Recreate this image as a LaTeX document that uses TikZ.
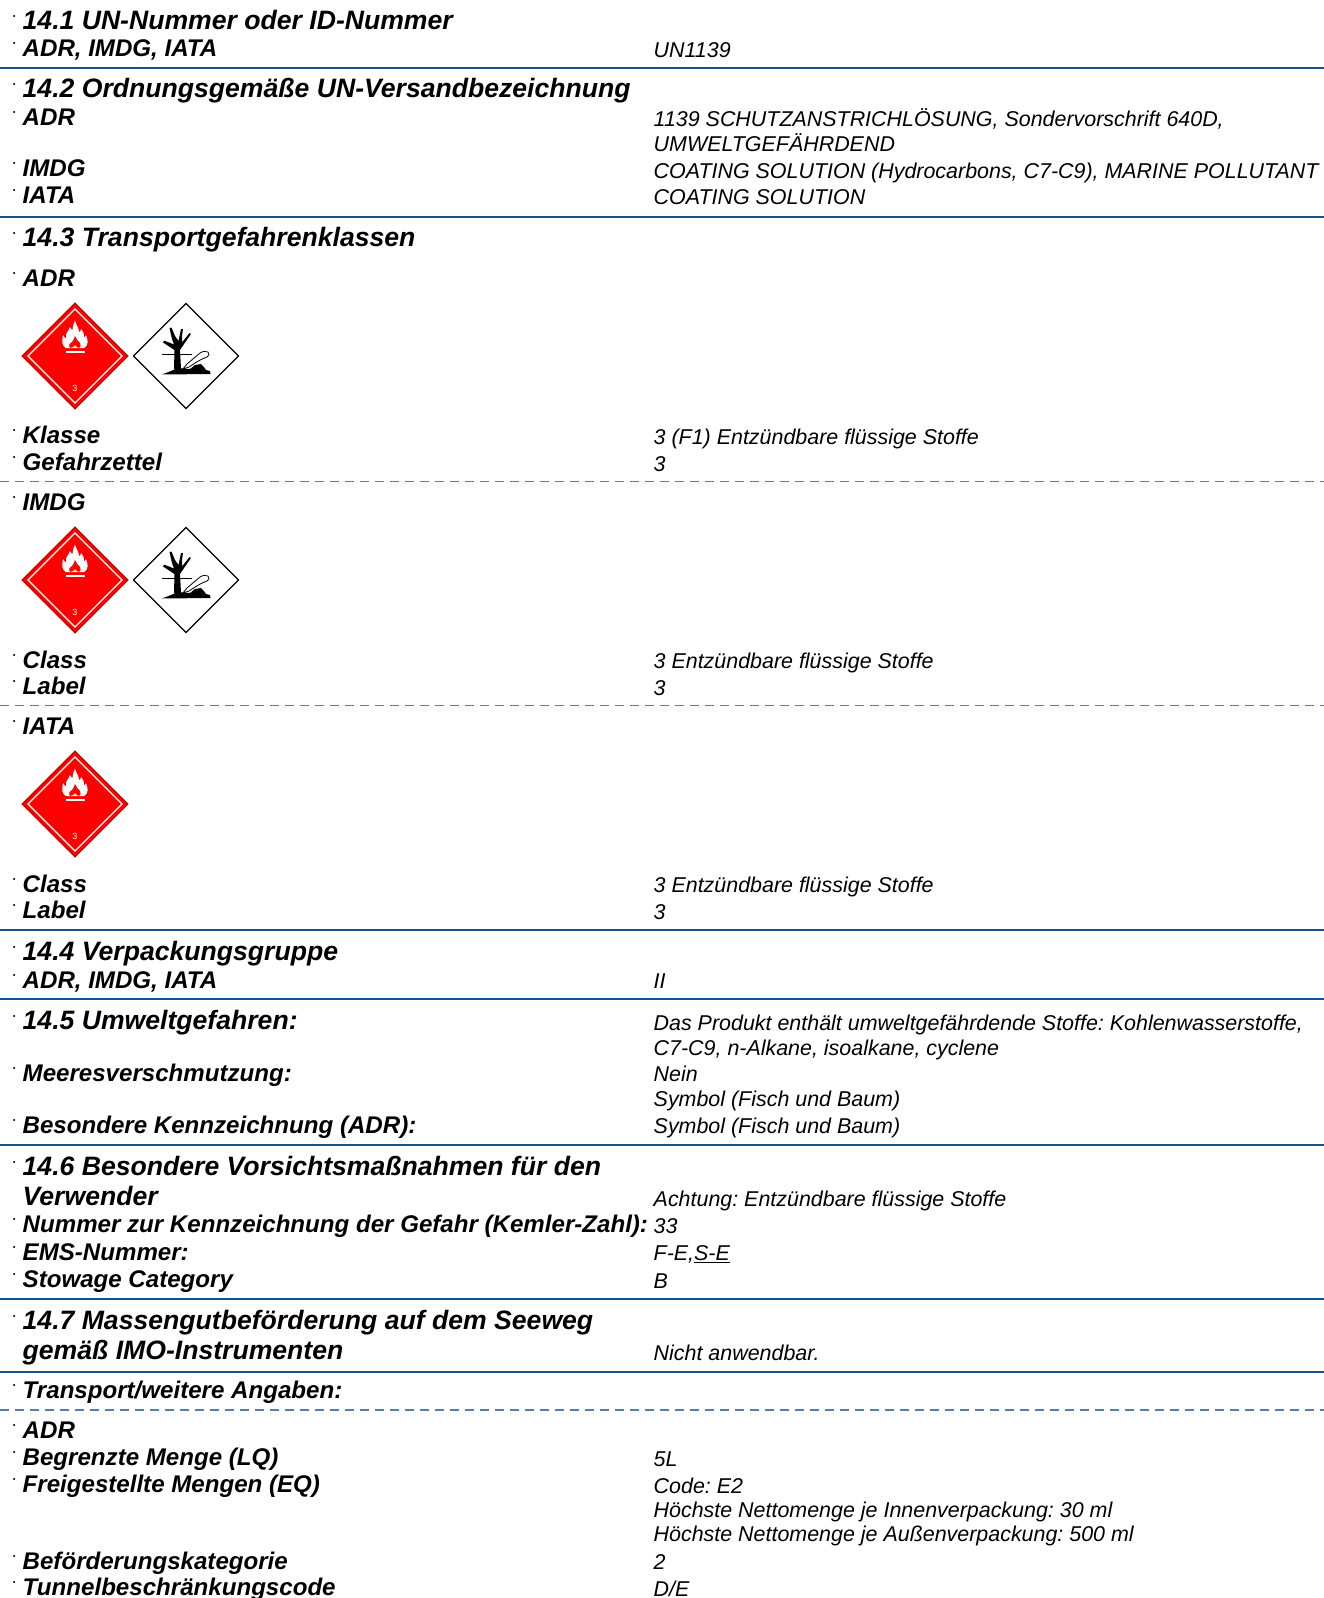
\documentclass[tikz,border=0pt]{standalone}
\usepackage{fontspec}
\setmainfont{Liberation Sans}
\frenchspacing
\definecolor{rulecol}{HTML}{14528F}
\definecolor{dashcol}{HTML}{4F82B4}
\newcommand{\mrk}{\llap{\raisebox{9pt}{\fontsize{12}{13}\selectfont\bfseries\upshape ·}\hspace{6pt}}}
\tikzset{
  hdg/.style={anchor=base west, inner sep=0pt, font=\fontsize{26.6}{27}\selectfont\bfseries\itshape},
  lbl/.style={anchor=base west, inner sep=0pt, font=\fontsize{24.1}{25}\selectfont\bfseries\itshape},
  val/.style={anchor=base west, inner sep=0pt, font=\fontsize{21.43}{22}\selectfont\itshape},
  bluerule/.style={draw=rulecol, line width=2pt},
  dashrule/.style={draw=dashcol, line width=1.5pt, dash pattern=on 8.5pt off 6.5pt},
  pics/flamesign/.style={code={
    \draw[fill=red, draw=red!70!black, line width=0.8pt] (0,-53) -- (53,0) -- (0,53) -- (-53,0) -- cycle;
    \draw[white, line width=1.2pt] (0,-47) -- (47,0) -- (0,47) -- (-47,0) -- cycle;
    % flame
    \fill[white] (-9,-8) .. controls (-13,-10) and (-13.5,-14) .. (-12,-21)
      .. controls (-11,-19) and (-10,-18) .. (-9,-18)
      .. controls (-10,-23) and (-6,-25) .. (-5,-29)
      .. controls (-4,-27) and (-3,-26) .. (-2.5,-26)
      .. controls (-3,-29) and (-1,-32) .. (0,-35.5)
      .. controls (1,-31) and (4,-28) .. (4,-24)
      .. controls (5,-24) and (6,-25) .. (6,-27)
      .. controls (9,-24) and (9,-21) .. (9,-19)
      .. controls (10,-19) and (11,-20) .. (11,-21)
      .. controls (13,-16) and (14,-11) .. (9,-8) -- cycle;
    \fill[red] (-5,-8) .. controls (-7,-11) and (-5,-13) .. (-3,-14)
      .. controls (-2,-15) and (-1,-17) .. (0,-20)
      .. controls (1,-17) and (3,-15) .. (5,-13)
      .. controls (6,-11) and (6,-9) .. (4,-8)
      .. controls (2,-8) and (1,-10) .. (0,-11)
      .. controls (-1,-10) and (-2,-8) .. (-5,-8) -- cycle;
    % bar and class number
    \fill[white] (-9.5,-4.7) rectangle (10,-2.6);
    \node[white, inner sep=0pt, font=\fontsize{9}{9}\selectfont] at (0,32) {3};
  }},
  pics/envsign/.style={code={
    \draw[fill=white, draw=black, line width=1.3pt] (0,-52.5) -- (52.5,0) -- (0,52.5) -- (-52.5,0) -- cycle;
    % tree
    \fill (-12,13) -- (-5,13) -- (-6,-6) -- (-2,-12) -- (5,-22) -- (3.5,-23) -- (-4,-13.5)
      -- (-4,-20) -- (-3,-27) -- (-5,-27) -- (-7.5,-15) -- (-11,-20) -- (-14.5,-28.5) -- (-16.5,-28)
      -- (-14,-17) -- (-12,-11.5) -- (-22,-15.5) -- (-23,-13.5) -- (-11.5,-6) -- cycle;
    \draw[line width=0.8pt] (-24,-2) -- (6,-2);
    % ground
    \fill (-24,18.5) -- (-15,15) -- (-8,12) -- (4,13) -- (9,9) -- (15,8) -- (18,11) -- (20,14) -- (24,15) -- (24.5,18) -- cycle;
    % fish
    \draw[fill=white, line width=0.8pt] (-3,13) -- (1,8) -- (14,-3) .. controls (17,-5) and (20,-5) .. (22,-4)
      .. controls (24,-2) and (23,0) .. (21,1) .. controls (15,3) and (9,7) .. (3,11) -- cycle;
  }}
}
\begin{document}
\begin{tikzpicture}[x=1pt,y=-1pt]
  \useasboundingbox (0,0) rectangle (1324,1598);
  % rules
  \foreach \y in {68,216.5,930,999.4,1144.7,1298.6,1371.5} {
    \draw[bluerule] (0,\y) -- (1324,\y);
  }
  \foreach \y in {481.6,705.4,1410.2} {
    \draw[dashrule] (0,\y) -- (1324,\y);
  }
  % 14.1
  \node[hdg] (h1) at (22.5,29.4) {\mrk 14.1 UN-Nummer oder ID-Nummer};
  \node[lbl] (l1) at (22.5,56.2) {\mrk ADR, IMDG, IATA};
  \node[val] (v1) at (653.5,57) {UN1139};
  % 14.2
  \node[hdg] (h2) at (22.5,97.7) {\mrk 14.2 Ordnungsgemäße UN-Versandbezeichnung};
  \node[lbl] (l2a) at (22.5,125.5) {\mrk ADR};
  \node[val] (v2a) at (653.5,126) {1139 SCHUTZANSTRICHLÖSUNG, Sondervorschrift 640D,};
  \node[val] (v2b) at (653.5,151.5) {UMWELTGEFÄHRDEND};
  \node[lbl] (l2c) at (22.5,176.5) {\mrk IMDG};
  \node[val] (v2c) at (653.5,178) {COATING SOLUTION (Hydrocarbons, C7-C9), MARINE POLLUTANT};
  \node[lbl] (l2d) at (22.5,203.3) {\mrk IATA};
  \node[val] (v2d) at (653.5,204.5) {COATING SOLUTION};
  % 14.3
  \node[hdg] (h3) at (22.5,246.5) {\mrk 14.3 Transportgefahrenklassen};
  \node[lbl] (l3a) at (22.5,286.8) {\mrk ADR};
  \pic at (75,356) {flamesign};
  \pic at (186,356) {envsign};
  \node[lbl] (l3b) at (22.5,443.7) {\mrk Klasse};
  \node[val] (v3b) at (653.5,444.5) {3 (F1) Entzündbare flüssige Stoffe};
  \node[lbl] (l3c) at (22.5,470.2) {\mrk Gefahrzettel};
  \node[val] (v3c) at (653.5,471) {3};
  \node[lbl] (l3d) at (22.5,510) {\mrk IMDG};
  \pic at (75,580) {flamesign};
  \pic at (186,580) {envsign};
  \node[lbl] (l3e) at (22.5,668) {\mrk Class};
  \node[val] (v3e) at (653.5,668.7) {3 Entzündbare flüssige Stoffe};
  \node[lbl] (l3f) at (22.5,694.5) {\mrk Label};
  \node[val] (v3f) at (653.5,695.2) {3};
  \node[lbl] (l3g) at (22.5,734.2) {\mrk IATA};
  \pic at (75,804) {flamesign};
  \node[lbl] (l3h) at (22.5,892.2) {\mrk Class};
  \node[val] (v3h) at (653.5,892.5) {3 Entzündbare flüssige Stoffe};
  \node[lbl] (l3i) at (22.5,918.7) {\mrk Label};
  \node[val] (v3i) at (653.5,919.5) {3};
  % 14.4
  \node[hdg] (h4) at (22.5,960) {\mrk 14.4 Verpackungsgruppe};
  \node[lbl] (l4) at (22.5,988) {\mrk ADR, IMDG, IATA};
  \node[val] (v4) at (653.5,988.7) {II};
  % 14.5
  \node[hdg] (h5) at (22.5,1029.3) {\mrk 14.5 Umweltgefahren:};
  \node[val] (v5a) at (653.5,1030) {Das Produkt enthält umweltgefährdende Stoffe: Kohlenwasserstoffe,};
  \node[val] (v5b) at (653.5,1055) {C7-C9, n-Alkane, isoalkane, cyclene};
  \node[lbl] (l5c) at (22.5,1081.8) {\mrk Meeresverschmutzung:};
  \node[val] (v5c) at (653.5,1081.5) {Nein};
  \node[val] (v5d) at (653.5,1106.5) {Symbol (Fisch und Baum)};
  \node[lbl] (l5e) at (22.5,1133.8) {\mrk Besondere Kennzeichnung (ADR):};
  \node[val] (v5e) at (653.5,1133.5) {Symbol (Fisch und Baum)};
  % 14.6
  \node[hdg] (h6a) at (22.5,1175) {\mrk 14.6 Besondere Vorsichtsmaßnahmen für den};
  \node[hdg] (h6b) at (22.5,1205.6) {Verwender};
  \node[val] (v6b) at (653.5,1206.5) {Achtung: Entzündbare flüssige Stoffe};
  \node[lbl] (l6c) at (22.5,1232.7) {\mrk Nummer zur Kennzeichnung der Gefahr (Kemler-Zahl):};
  \node[val] (v6c) at (653.5,1233.5) {33};
  \node[lbl] (l6d) at (22.5,1260) {\mrk EMS-Nummer:};
  \node[val] (v6d) at (653.5,1260.5) {F-E,\underline{S-E}};
  \node[lbl] (l6e) at (22.5,1287.7) {\mrk Stowage Category};
  \node[val] (v6e) at (653.5,1288) {B};
  % 14.7
  \node[hdg] (h7a) at (22.5,1329) {\mrk 14.7 Massengutbeförderung auf dem Seeweg};
  \node[hdg] (h7b) at (22.5,1359.6) {gemäß IMO-Instrumenten};
  \node[val] (v7b) at (653.5,1360.5) {Nicht anwendbar.};
  % further details
  \node[lbl] (l8) at (22.5,1398.8) {\mrk Transport/weitere Angaben:};
  \node[lbl] (l8a) at (22.5,1438.3) {\mrk ADR};
  \node[lbl] (l8b) at (22.5,1465.5) {\mrk Begrenzte Menge (LQ)};
  \node[val] (v8b) at (653.5,1466.5) {5L};
  \node[lbl] (l8c) at (22.5,1492.6) {\mrk Freigestellte Mengen (EQ)};
  \node[val] (v8c) at (653.5,1493) {Code: E2};
  \node[val] (v8d) at (653.5,1517) {Höchste Nettomenge je Innenverpackung: 30 ml};
  \node[val] (v8e) at (653.5,1541.5) {Höchste Nettomenge je Außenverpackung: 500 ml};
  \node[lbl] (l8f) at (22.5,1569) {\mrk Beförderungskategorie};
  \node[val] (v8f) at (653.5,1569.5) {2};
  \node[lbl] (l8g) at (22.5,1595.6) {\mrk Tunnelbeschränkungscode};
  \node[val] (v8g) at (653.5,1596) {D/E};
\end{tikzpicture}
\end{document}
